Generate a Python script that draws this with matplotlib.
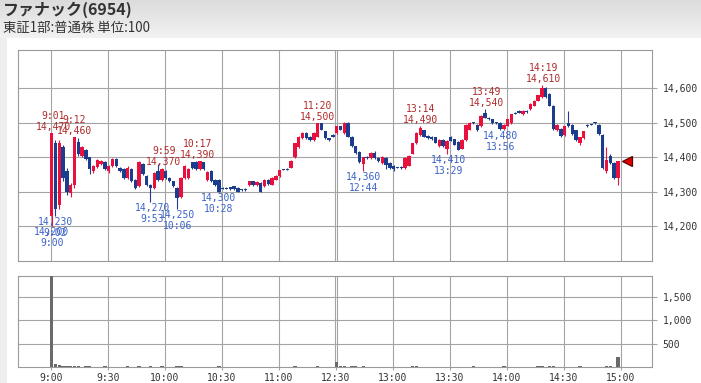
import numpy as np
import matplotlib
matplotlib.use("Agg")
import matplotlib.pyplot as plt
from matplotlib.patches import Rectangle
from matplotlib.colors import LinearSegmentedColormap

title = "ファナック(6954)"
subtitle = "東証1部:普通株 単位:100"

# trading minutes: 0 = 9:00, 150 = 11:30 / 12:30 (lunch removed), 300 = 15:00
time_tick_minutes = [0, 30, 60, 90, 120, 150, 180, 210, 240, 270, 300]
time_tick_labels = ["9:00", "9:30", "10:00", "10:30", "11:00", "12:30",
                    "13:00", "13:30", "14:00", "14:30", "15:00"]
price_ticks = [14200, 14300, 14400, 14500, 14600]
price_tick_labels = ["14,200", "14,300", "14,400", "14,500", "14,600"]
volume_ticks = [500, 1000, 1500]
volume_tick_labels = ["500", "1,000", "1,500"]

# 2-minute candles (candle k starts at trading minute 2k)
opens = [
    14230, 14440, 14260, 14430, 14360, 14295, 14320, 14445, 14405, 14420,
    14400, 14360, 14372, 14380, 14385, 14360, 14375, 14395, 14370, 14365,
    14340, 14365, 14335, 14315, 14380, 14345, 14320, 14310, 14360, 14335,
    14360, 14340, 14330, 14310, 14285, 14340, 14340, 14385, 14385, 14365,
    14385, 14335, 14360, 14335, 14335, 14310, 14310, 14312, 14315, 14310,
    14305, 14308, 14318, 14330, 14318, 14325, 14315, 14335, 14320, 14335,
    14345, 14365, 14367, 14370, 14400, 14430, 14455, 14470, 14460, 14450,
    14460, 14500, 14475, 14455, 14465,
    14470, 14490, 14470, 14500, 14460,
    14432, 14415, 14380, 14402, 14398, 14412, 14398, 14383, 14398, 14383,
    14375, 14370, 14372, 14368, 14375, 14410, 14440, 14465, 14478, 14462,
    14460, 14458, 14432, 14450, 14425, 14460, 14452, 14445, 14425, 14450,
    14480, 14500, 14495, 14490, 14530, 14515, 14510, 14500, 14500, 14482,
    14492, 14500, 14530, 14535, 14525, 14535, 14540, 14550, 14565, 14575,
    14602, 14585, 14550, 14478, 14482, 14465, 14500, 14495, 14478, 14440,
    14455, 14495, 14495, 14500, 14495, 14466, 14360, 14403, 14383, 14340,
]
closes = [
    14470, 14250, 14440, 14340, 14300, 14320, 14460, 14410, 14430, 14395,
    14365, 14375, 14392, 14390, 14365, 14375, 14395, 14375, 14360, 14340,
    14370, 14330, 14310, 14385, 14350, 14320, 14310, 14355, 14335, 14365,
    14340, 14330, 14315, 14280, 14340, 14375, 14365, 14370, 14365, 14388,
    14365, 14358, 14330, 14320, 14300, 14310, 14310, 14308, 14308, 14300,
    14305, 14305, 14330, 14318, 14328, 14300, 14335, 14322, 14340, 14345,
    14362, 14365, 14364, 14390, 14440, 14460, 14470, 14455, 14450, 14470,
    14500, 14480, 14455, 14450, 14460,
    14490, 14480, 14500, 14460, 14432,
    14412, 14385, 14400, 14398, 14412, 14398, 14388, 14402, 14378, 14368,
    14365, 14370, 14368, 14398, 14405, 14440, 14470, 14485, 14460, 14455,
    14452, 14442, 14450, 14432, 14447, 14448, 14437, 14422, 14450, 14495,
    14500, 14500, 14478, 14520, 14515, 14510, 14500, 14500, 14482, 14495,
    14510, 14525, 14528, 14530, 14535, 14532, 14555, 14565, 14580, 14600,
    14575, 14550, 14482, 14495, 14462, 14490, 14490, 14468, 14450, 14458,
    14475, 14490, 14495, 14500, 14468, 14368, 14393, 14383, 14340, 14388,
]
highs = [
    14470, 14450, 14450, 14435, 14370, 14325, 14460, 14455, 14432, 14425,
    14402, 14378, 14395, 14393, 14388, 14378, 14398, 14398, 14372, 14368,
    14373, 14368, 14338, 14388, 14383, 14348, 14322, 14358, 14380, 14370,
    14362, 14342, 14332, 14312, 14342, 14378, 14368, 14387, 14390, 14390,
    14387, 14360, 14362, 14337, 14337, 14312, 14312, 14314, 14317, 14312,
    14307, 14310, 14332, 14332, 14330, 14327, 14337, 14337, 14342, 14347,
    14364, 14367, 14369, 14392, 14442, 14462, 14472, 14472, 14462, 14472,
    14500, 14500, 14477, 14457, 14467,
    14492, 14492, 14502, 14502, 14462,
    14434, 14417, 14402, 14404, 14414, 14417, 14400, 14404, 14400, 14385,
    14377, 14372, 14374, 14400, 14407, 14442, 14472, 14490, 14480, 14464,
    14462, 14460, 14452, 14452, 14449, 14462, 14454, 14447, 14452, 14497,
    14502, 14502, 14497, 14522, 14540, 14517, 14512, 14502, 14502, 14497,
    14512, 14527, 14532, 14537, 14537, 14537, 14557, 14567, 14582, 14610,
    14605, 14587, 14552, 14497, 14484, 14492, 14535, 14497, 14480, 14460,
    14477, 14497, 14497, 14502, 14497, 14468, 14430, 14408, 14385, 14390,
]
lows = [
    14200, 14230, 14250, 14330, 14290, 14285, 14310, 14405, 14400, 14392,
    14350, 14355, 14370, 14378, 14362, 14355, 14372, 14372, 14357, 14337,
    14338, 14327, 14307, 14312, 14347, 14317, 14270, 14307, 14332, 14332,
    14337, 14327, 14312, 14250, 14282, 14337, 14337, 14367, 14362, 14362,
    14362, 14332, 14327, 14317, 14300, 14308, 14308, 14306, 14306, 14300,
    14303, 14303, 14316, 14316, 14316, 14300, 14313, 14320, 14318, 14333,
    14343, 14363, 14362, 14368, 14398, 14428, 14453, 14453, 14448, 14448,
    14458, 14478, 14453, 14448, 14458,
    14468, 14478, 14468, 14458, 14430,
    14410, 14383, 14360, 14396, 14396, 14396, 14386, 14381, 14365, 14366,
    14360, 14368, 14366, 14366, 14373, 14408, 14438, 14463, 14458, 14453,
    14450, 14440, 14430, 14430, 14410, 14446, 14435, 14420, 14423, 14448,
    14478, 14498, 14475, 14488, 14513, 14508, 14498, 14498, 14480, 14480,
    14490, 14498, 14526, 14528, 14523, 14530, 14538, 14548, 14563, 14573,
    14573, 14548, 14480, 14476, 14460, 14463, 14488, 14466, 14448, 14435,
    14453, 14488, 14493, 14498, 14466, 14366, 14355, 14381, 14338, 14320,
]
volumes = [
    2100, 60, 45, 30, 25, 20, 35, 20, 15, 18,
    20, 15, 12, 15, 18, 12, 15, 10, 12, 15,
    18, 12, 15, 20, 12, 15, 25, 15, 12, 18,
    12, 10, 15, 28, 20, 15, 12, 10, 15, 12,
    15, 12, 10, 12, 20, 8, 8, 10, 8, 10,
    6, 8, 12, 10, 8, 12, 10, 8, 12, 10,
    15, 6, 8, 12, 20, 15, 12, 10, 12, 15,
    20, 12, 10, 8, 10,
    110, 20, 18, 15, 20, 18, 15, 18, 12, 10,
    12, 10, 12, 10, 15, 12, 8, 8, 12, 15,
    18, 20, 15, 12, 10, 10, 12, 10, 12, 15,
    12, 10, 12, 10, 12, 15, 18, 12, 8, 12,
    15, 12, 10, 15, 18, 12, 8, 10, 8, 12,
    10, 12, 15, 18, 20, 15, 18, 20, 12, 10,
    12, 10, 12, 15, 18, 12, 10, 8, 12, 10,
    15, 20, 18, 15, 220,
]

high_times = ["9:01", "9:12", "9:59", "10:17", "11:20", "13:14", "13:49", "14:19"]
high_prices = [14470, 14460, 14370, 14390, 14500, 14490, 14540, 14610]
low_times = ["9:00", "9:02", "9:53", "10:06", "10:28", "12:44", "13:29", "13:56"]
low_prices = [14200, 14230, 14270, 14250, 14300, 14360, 14410, 14480]

CANDLE_MIN = 2


def to_trading_minute(t):
    h, m = map(int, t.split(":"))
    mins = (h - 9) * 60 + m
    if mins >= 210:          # afternoon session starts 12:30
        mins -= 60
    return mins


W, H = 701, 383
fig = plt.figure(figsize=(W / 100, H / 100), dpi=100)
fig.patch.set_facecolor("#eeeeee")


def fx(px):
    return px / W


def fy(py):
    return 1 - py / H


fig.patches.append(Rectangle((fx(7), 0), 1 - fx(7), fy(38), transform=fig.transFigure,
                             facecolor="white", edgecolor="none", zorder=-10))
axh = fig.add_axes([0, fy(38), 1, 38 / H], zorder=-5)
cmap = LinearSegmentedColormap.from_list("hdr", ["#dcdcdc", "#f2f2f2"])
axh.imshow(np.linspace(0, 1, 50).reshape(-1, 1), cmap=cmap, aspect="auto",
           extent=[0, 1, 0, 1], origin="upper")
axh.axis("off")

jp = ["Noto Sans CJK JP", "DejaVu Sans"]
fig.text(fx(3), fy(10), title, fontsize=11.5, fontweight="bold", family=jp,
         color="#333333", va="center", ha="left", zorder=5)
fig.text(fx(3), fy(28), subtitle, fontsize=9.6, family=jp,
         color="#333333", va="center", ha="left", zorder=5)

L, R = 18.3, 652
ax = fig.add_axes([fx(L), fy(261), fx(R) - fx(L), (261 - 50) / H], zorder=1)
axv = fig.add_axes([fx(L), fy(367.3), fx(R) - fx(L), (367.3 - 275.7) / H], zorder=1)

xmin, xmax = (L - 50.7) / 1.9, (R - 50.7) / 1.9
grid_c = "#a4a4a4"
mono = "DejaVu Sans Mono"
txt_c = "#333333"
red, blue = "#e8103c", "#1c3c8e"
red_txt, blue_txt = "#b02a2a", "#3a62c8"

o = np.array(opens, float)
c = np.array(closes, float)
hi = np.array(highs, float)
lo = np.array(lows, float)
x = np.arange(len(opens)) * CANDLE_MIN + 0.5

for a in (ax, axv):
    a.set_xlim(xmin, xmax)
    for m in time_tick_minutes:
        if m == 150:
            a.axvline(149.4, color=grid_c, lw=0.8, zorder=1)
            a.axvline(150.6, color=grid_c, lw=0.8, zorder=1)
        else:
            a.axvline(m, color=grid_c, lw=0.8, zorder=1)
    for s in a.spines.values():
        s.set_color("#9a9a9a")
        s.set_linewidth(0.8)
    a.yaxis.tick_right()
    a.tick_params(axis="y", direction="out", length=3.5, width=0.8, color=grid_c,
                  pad=4, labelsize=7, labelcolor=txt_c)
    a.yaxis.grid(True, color=grid_c, lw=0.8, zorder=1)
    a.set_axisbelow(True)

# price panel
ax.set_ylim(14098, 14712)
ax.set_yticks(price_ticks)
ax.set_yticklabels(price_tick_labels, family=mono)
ax.tick_params(axis="x", length=0, labelbottom=False)

cols = [red if cc > oo else blue for oo, cc in zip(o, c)]
minh = 3.0
body_lo = np.where(np.abs(c - o) < minh, np.minimum(o, c) - minh / 2, np.minimum(o, c))
body_h = np.maximum(np.abs(c - o), minh)
ax.vlines(x, lo, hi, colors=cols, lw=0.8, zorder=3)
ax.bar(x, body_h, bottom=body_lo, width=1.8, color=cols, linewidth=0, zorder=4)

for t, p in zip(high_times, high_prices):
    mx = to_trading_minute(t) + 0.5
    ax.annotate(f"{p:,}", (mx, p), xytext=(0, 6), textcoords="offset pixels",
                ha="center", va="center", fontsize=7, family=mono, color=red_txt, zorder=5)
    ax.annotate(t, (mx, p), xytext=(0, 17), textcoords="offset pixels",
                ha="center", va="center", fontsize=7, family=mono, color=red_txt, zorder=5)
for t, p in zip(low_times, low_prices):
    mx = to_trading_minute(t) + 0.5
    ax.annotate(f"{p:,}", (mx, p), xytext=(0, -6), textcoords="offset pixels",
                ha="center", va="center", fontsize=7, family=mono, color=blue_txt, zorder=5)
    ax.annotate(t, (mx, p), xytext=(0, -17), textcoords="offset pixels",
                ha="center", va="center", fontsize=7, family=mono, color=blue_txt, zorder=5)

# last-price marker
ax.plot([x[-1] + 4.8], [c[-1]], marker="<", ms=7.5, mfc="#e00000", mec="#5a0000",
        mew=0.9, zorder=6)

# volume panel
axv.set_ylim(0, 1943)
axv.bar(x, volumes, width=1.8, color="#6a6a6a", linewidth=0, zorder=3)
axv.set_yticks(volume_ticks)
axv.set_yticklabels(volume_tick_labels, family=mono)
axv.set_xticks(time_tick_minutes)
axv.set_xticklabels(time_tick_labels, family=mono)
axv.tick_params(axis="x", direction="out", length=2.5, width=0.8, color=grid_c,
                pad=1.5, labelsize=7, labelcolor=txt_c)

fig.savefig("out.png", dpi=100, facecolor=fig.get_facecolor())
